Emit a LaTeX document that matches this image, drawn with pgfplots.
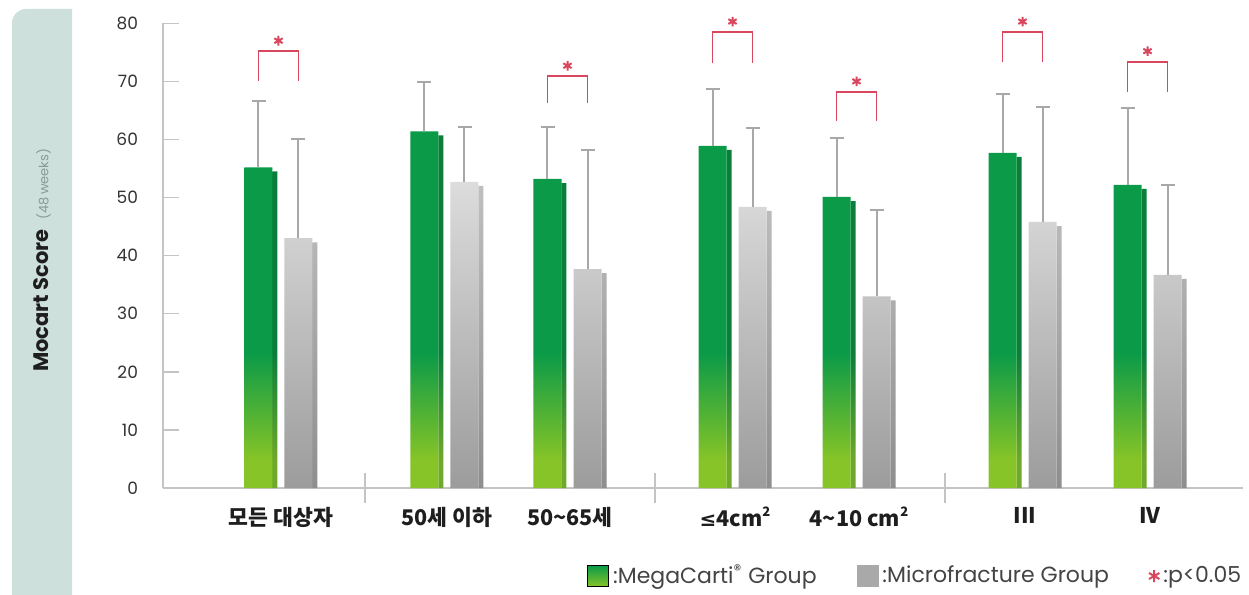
\documentclass[border=0pt]{standalone}
\usepackage{pgfplots}
\pgfplotsset{compat=1.18}
\usepackage{pgfplotstable}
\usepackage{fontspec}
\setmainfont{Poppins}
\newfontfamily\kr{Noto Sans CJK KR}
\newfontfamily\djv{DejaVu Sans}

\definecolor{gGreen}{HTML}{0A9A48}
\definecolor{gLime}{HTML}{86C427}
\definecolor{gSide}{HTML}{0B7E3B}
\definecolor{gSideLime}{HTML}{6FA82A}
\definecolor{mTop}{HTML}{DCDCDC}
\definecolor{mBot}{HTML}{9C9C9C}
\definecolor{mSideTop}{HTML}{BFBFBF}
\definecolor{mSideBot}{HTML}{8E8E8E}
\definecolor{errgray}{HTML}{A8A8A8}
\definecolor{axgray}{HTML}{C4C4C4}
\definecolor{sigred}{HTML}{D9475F}
\definecolor{panel}{HTML}{CDE0DB}
\definecolor{tickc}{HTML}{333333}
\definecolor{labc}{HTML}{1E1E1E}
\definecolor{legc}{HTML}{444444}
\definecolor{lbl2}{HTML}{8A9A95}

\pgfdeclareverticalshading{gfront}{100bp}{color(0bp)=(gLime); color(25bp)=(gLime); color(29bp)=(gLime); color(44bp)=(gGreen); color(75bp)=(gGreen); color(100bp)=(gGreen)}
\pgfdeclareverticalshading{gside}{100bp}{color(0bp)=(gSideLime); color(25bp)=(gSideLime); color(29bp)=(gSideLime); color(44bp)=(gSide); color(75bp)=(gSide); color(100bp)=(gSide)}

\pgfplotstableread{
x g ge m me
281 55.2 11.4 43.0 17.1
447 61.4 8.5 52.7 9.4
570 53.2 8.9 37.7 20.5
735 58.9 9.8 48.4 13.6
859 50.1 10.1 33.0 14.8
1025 57.7 10.1 45.8 19.8
1150 52.2 13.2 36.7 15.5
}\datatable

\newcommand\sqtwo{\raisebox{0.85ex}{\fontsize{6.5}{6.5}\selectfont 2}}

\begin{document}
\begin{tikzpicture}
\useasboundingbox (0,0) rectangle (624.5pt,297.5pt);
\fill[white] (0,0) rectangle (624.5pt,297.5pt);
\fill[panel] (36pt,-10pt) -- (36pt,293pt) [rounded corners=7pt] -- (6pt,293pt) -- (6pt,-10pt) [sharp corners] -- cycle;
\begin{axis}[
  at={(81.5pt,53.5pt)}, anchor=south west,
  scale only axis, width=540pt, height=232.35pt,
  xmin=163, xmax=1243, ymin=0, ymax=80,
  clip=false,
  axis lines*=left,
  axis line style={draw=axgray, line width=0.75pt},
  ytick={0,10,...,80},
  tick align=inside,
  ytick style={draw=axgray, line width=0.75pt},
  major tick length=8pt,
  xtick={281,447,570,735,859,1025,1150},
  xticklabels={모든 대상자, 50세 이하, 50\textasciitilde65세, {\djv\bfseries\fontsize{10}{10}\selectfont ≤}4cm\sqtwo, 4\textasciitilde10 cm\sqtwo, III, IV},
  xtick style={draw=none},
  extra x ticks={365,655,945},
  extra x tick labels={},
  extra x tick style={xtick style={draw=axgray, line width=0.75pt}, major tick length=15pt, tick align=center},
  /pgf/number format/assume math mode=true,
  yticklabel style={font=\fontsize{8.5}{10}\selectfont, text=tickc, xshift=-9pt},
  xticklabel style={font=\fontsize{10.8}{12}\selectfont\kr\bfseries, text=labc, yshift=-6pt},
  ylabel={\textbf{Mocart Score}\hspace{5pt}{\fontsize{6.5}{7}\selectfont\color{lbl2}(48\,weeks)}},
  every axis y label/.style={at={(axis description cs:-0.112,0.49)}, rotate=90, anchor=center, text=labc, font=\fontsize{10.5}{12}\selectfont},
  legend columns=3,
  legend cell align=left,
  legend style={at={(axis description cs:1.008,-0.1894)}, anchor=east, draw=none, fill=none,
    font=\fontsize{11}{12}\selectfont, text=legc,
    /tikz/every even column/.append style={column sep=18pt},
    nodes={inner sep=2pt}},
]
% side faces
\addplot[forget plot, ybar, bar width=5, bar shift=0, draw=none, shade, shading=gside]
  table[x expr=\thisrow{x}-6, y expr=\thisrow{g}-0.7]{\datatable};
\addplot[forget plot, ybar, bar width=5, bar shift=0, draw=none, top color=mSideTop, bottom color=mSideBot]
  table[x expr=\thisrow{x}+34, y expr=\thisrow{m}-0.7]{\datatable};
% front faces with error bars
\addplot[forget plot, ybar, bar width=28, bar shift=0, draw=none, shade, shading=gfront,
  error bars/.cd, y dir=plus, y explicit,
  error bar style={line width=1pt, color=errgray},
  error mark options={rotate=90, mark size=3.5pt, line width=1pt, color=errgray}]
  table[x expr=\thisrow{x}-22.5, y=g, y error plus=ge]{\datatable};
\addplot[forget plot, ybar, bar width=28, bar shift=0, draw=none, top color=mTop, bottom color=mBot,
  error bars/.cd, y dir=plus, y explicit,
  error bar style={line width=1pt, color=errgray},
  error mark options={rotate=90, mark size=3.5pt, line width=1pt, color=errgray}]
  table[x expr=\thisrow{x}+17.5, y=m, y error plus=me]{\datatable};
% significance brackets
\addplot[forget plot, sigred, line width=0.75pt] coordinates {(258.5,70.1) (258.5,75.2) (298.5,75.2) (298.5,70.1)};
\addplot[forget plot, sigred, line width=0.75pt] coordinates {(547.5,66.3) (547.5,70.9) (587.5,70.9) (587.5,66.3)};
\addplot[forget plot, sigred, line width=0.75pt] coordinates {(712.5,73.1) (712.5,78.5) (752.5,78.5) (752.5,73.1)};
\addplot[forget plot, sigred, line width=0.75pt] coordinates {(836.5,63.2) (836.5,68.2) (876.5,68.2) (876.5,63.2)};
\addplot[forget plot, sigred, line width=0.75pt] coordinates {(1002.5,73.3) (1002.5,78.5) (1042.5,78.5) (1042.5,73.3)};
\addplot[forget plot, sigred, line width=0.75pt] coordinates {(1127.5,68.2) (1127.5,73.3) (1167.5,73.3) (1167.5,68.2)};
\addplot[forget plot, only marks, mark=asterisk, mark size=2.4pt, sigred, line width=1pt]
  coordinates {(278.5,77.0) (567.5,72.7) (732.5,80.3) (856.5,70.0) (1022.5,80.3) (1147.5,75.2)};
% legend
\addlegendimage{legend image code/.code={\path[shade, top color=gGreen, bottom color=gLime] (0pt,-5.25pt) rectangle (10.5pt,5.25pt);}}
\addlegendentry{:MegaCarti\textsuperscript{®} Group}
\addlegendimage{legend image code/.code={\fill[mBot!80!mTop] (0pt,-5.25pt) rectangle (10.5pt,5.25pt);}}
\addlegendentry{:Microfracture Group}
\addlegendimage{legend image code/.code={\draw[sigred, line width=1pt, mark size=3pt] plot[only marks, mark=asterisk] coordinates {(3.5pt,0pt)};}}
\addlegendentry{:p<0.05}
\end{axis}
\end{tikzpicture}
\end{document}
